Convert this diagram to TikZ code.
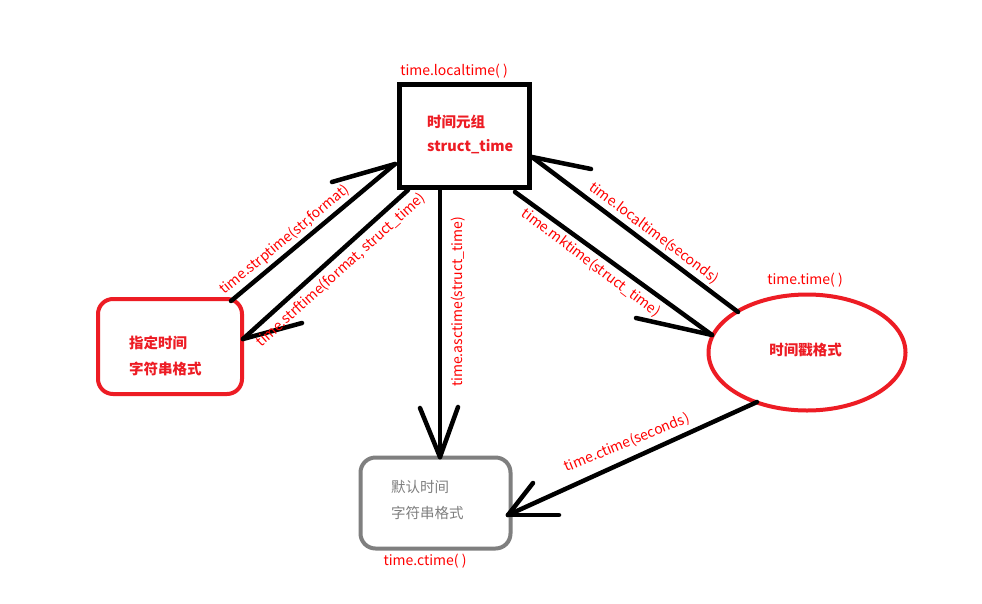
\documentclass[tikz,border=0pt]{standalone}
\usepackage{fontspec}
\setmainfont{Noto Sans CJK SC}
\usetikzlibrary{shapes.geometric}
\definecolor{mspred}{RGB}{237,28,36}
\definecolor{lblred}{RGB}{255,0,0}
\definecolor{mspgray}{RGB}{127,127,127}
\tikzset{
  conn/.style={line width=4.5pt, black, line cap=round},
  barb/.style={line width=4.5pt, black, line cap=round},
  lbl/.style={text=lblred, font=\fontsize{14}{15}\selectfont, inner sep=0pt},
  boxtxt/.style={font=\fontsize{14.5}{16}\selectfont\bfseries, inner sep=0pt, anchor=west},
}
\begin{document}
\begin{tikzpicture}[x=1pt,y=-1pt]
\useasboundingbox (0,0) rectangle (982,603);
\fill[white] (0,0) rectangle (982,603);

% shapes
\node[draw=black, line width=5pt, minimum width=130pt, minimum height=103pt] (top) at (464,135.5) {};
\node[draw=mspred, line width=4pt, rounded corners=15pt, minimum width=144pt, minimum height=95pt] (left) at (170,346.5) {};
\node[draw=mspred, line width=4pt, ellipse, minimum width=197pt, minimum height=116pt] (ell) at (807,352.5) {};
\node[draw=mspgray, line width=4pt, rounded corners=15pt, minimum width=150pt, minimum height=91pt] (bot) at (435.5,503) {};

% texts inside
\node[boxtxt, text=mspred] (t1) at (427,122) {时间元组};
\node[boxtxt, text=mspred] (t2) at (427,147) {struct\_time};
\node[boxtxt, text=mspred] (l1) at (129,343) {指定时间};
\node[boxtxt, text=mspred] (l2) at (129,369) {字符串格式};
\node[boxtxt, text=mspred, anchor=center] (e1) at (805.5,350) {时间戳格式};
\node[boxtxt, text=mspgray, font=\fontsize{14.5}{16}\selectfont] (b1) at (391,487) {默认时间};
\node[boxtxt, text=mspgray, font=\fontsize{14.5}{16}\selectfont] (b2) at (391,513) {字符串格式};

% outer labels
\node[lbl] (ltop) at (454,71) {time.localtime( )};
\node[lbl] (lell) at (805,280) {time.time( )};
\node[lbl] (lbot) at (425,561) {time.ctime( )};

% connector endpoints
\coordinate (a1s) at (231,301); \coordinate (a1t) at (395,164); \coordinate (a1b) at (332,182);
\coordinate (a2s) at (408,190); \coordinate (a2t) at (243,339); \coordinate (a2b) at (302,323);
\coordinate (a3s) at (440,189); \coordinate (a3t) at (440,457); \coordinate (a3b) at (420,408); \coordinate (a3c) at (458,407);
\coordinate (a4s) at (738,312); \coordinate (a4t) at (532,157); \coordinate (a4b) at (591,169);
\coordinate (a5s) at (515,192); \coordinate (a5t) at (712,335); \coordinate (a5b) at (636,318);
\coordinate (a6s) at (757,402); \coordinate (a6t) at (508,515); \coordinate (a6b) at (533,483); \coordinate (a6c) at (559,515);

% connectors
\draw[conn] (a1s) -- (a1t); \draw[barb] (a1b) -- (a1t);
\draw[conn] (a2s) -- (a2t); \draw[barb] (a2b) -- (a2t);
\draw[conn] (a3s) -- (a3t); \draw[barb] (a3b) -- (a3t); \draw[barb] (a3c) -- (a3t);
\draw[conn] (a4s) -- (a4t); \draw[barb] (a4b) -- (a4t);
\draw[conn] (a5s) -- (a5t); \draw[barb] (a5b) -- (a5t);
\draw[conn] (a6s) -- (a6t); \draw[barb] (a6b) -- (a6t); \draw[barb] (a6c) -- (a6t);

% connector labels
\node[lbl, rotate=39.5] (c1) at (285,240) {time.strptime(str,format)};
\node[lbl, rotate=42] (c2) at (341,270) {time.strftime(format, struct\_time)};
\node[lbl, rotate=90] (c3) at (458,302) {time.asctime(struct\_time)};
\node[lbl, rotate=-37] (c4) at (654,233) {time.localtime(seconds)};
\node[lbl, rotate=-37] (c5) at (591,263) {time.mktime(struct\_time)};
\node[lbl, rotate=22] (c6) at (627,443) {time.ctime(seconds)};
\end{tikzpicture}
\end{document}
